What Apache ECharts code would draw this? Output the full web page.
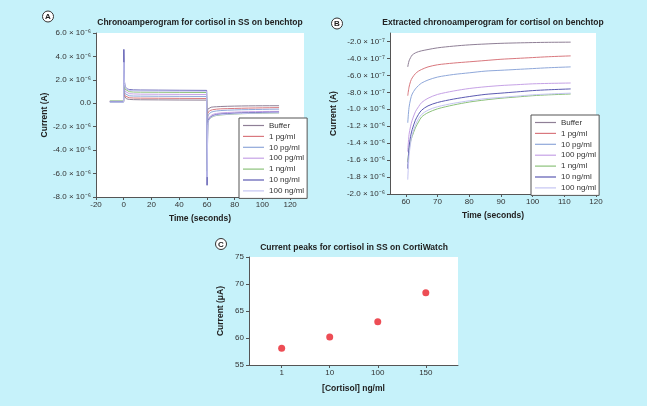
<!DOCTYPE html>
<html><head><meta charset="utf-8">
<script src="https://cdn.jsdelivr.net/npm/echarts@6/dist/echarts.min.js"></script>
<style>html,body{margin:0;padding:0;background:#c6f2fa}#c{width:647px;height:406px}</style>
</head><body><div id="c"></div>
<script>
// ---------- DATA ----------
const seriesNames = ['Buffer','1 pg/ml','10 pg/ml','100 pg/ml','1 ng/ml','10 ng/ml','100 ng/ml'];
const seriesColors = ['#8f7f96','#d9787e','#8fa8da','#c6a2e6','#8cc27a','#5c5ab2','#c4c4f2'];

// Panel A: first part (-10 s .. 60 s), current in units of 1e-6 A
const timeA1 = [-10,-0.1,0.1,0.5,1,2,4,7,12,25,40,59.8,60.1];
const bufferA1   = [0.12,0.12,1.2,0.6,0.45,0.38,0.33,0.31,0.30,0.29,0.28,0.27,-2.5];
const pg1A1      = [0.15,0.15,1.6,0.8,0.62,0.52,0.47,0.45,0.44,0.43,0.42,0.41,-3.5];
const pg10A1     = [0.10,0.10,2.0,1.05,0.82,0.70,0.64,0.62,0.61,0.60,0.59,0.58,-4.5];
const pg100A1    = [0.18,0.18,2.4,1.3,1.02,0.88,0.82,0.80,0.78,0.77,0.76,0.75,-5.2];
const ng1A1      = [0.20,0.20,2.8,1.5,1.2,1.05,0.99,0.96,0.95,0.94,0.93,0.92,-5.8];
const ng10A1     = [0.15,0.15,4.6,1.9,1.45,1.25,1.17,1.14,1.13,1.12,1.11,1.10,-7.0];
const ng100A1    = [0.12,0.12,3.5,1.7,1.35,1.18,1.10,1.07,1.06,1.05,1.04,1.03,-6.3];

// Panel B: extracted part (60 s .. 112 s), current in units of 1e-7 A
const timeB = [60.6,61,61.5,62,63,64,65,67,70,75,80,85,90,95,100,105,112];
const bufferB = [-5.0,-4.3,-3.9,-3.6,-3.35,-3.2,-3.1,-2.95,-2.75,-2.55,-2.4,-2.3,-2.22,-2.17,-2.13,-2.1,-2.08];
const pg1B    = [-8.4,-7.4,-6.7,-6.3,-5.8,-5.5,-5.3,-5.0,-4.75,-4.55,-4.4,-4.25,-4.1,-4.0,-3.9,-3.8,-3.7];
const pg10B   = [-11.6,-9.8,-8.8,-8.2,-7.6,-7.2,-6.9,-6.55,-6.2,-5.9,-5.7,-5.5,-5.4,-5.3,-5.2,-5.1,-5.0];
const pg100B  = [-15.0,-13.0,-12.0,-11.3,-10.3,-9.7,-9.2,-8.7,-8.25,-7.85,-7.55,-7.35,-7.2,-7.1,-7.0,-6.95,-6.9];
const ng1B    = [-16.2,-14.8,-13.8,-13.2,-12.2,-11.5,-10.9,-10.4,-9.95,-9.5,-9.15,-8.9,-8.7,-8.55,-8.4,-8.3,-8.2];
const ng10B   = [-17.0,-14.5,-13.2,-12.4,-11.3,-10.6,-10.1,-9.6,-9.2,-8.8,-8.5,-8.25,-8.1,-7.95,-7.8,-7.7,-7.6];
const ng100B  = [-18.3,-15.5,-14.0,-13.0,-11.9,-11.1,-10.6,-10.1,-9.7,-9.3,-9.0,-8.75,-8.6,-8.45,-8.3,-8.2,-8.1];

// Panel C
const cortisolLabels = ['1','10','100','150'];
const peakCurrents = [58.1,60.2,63.0,68.4];

// Tick labels
const xTicksA = [-20,0,20,40,60,80,100,120];
const yTicksA = [-8e-6,-6e-6,-4e-6,-2e-6,0,2e-6,4e-6,6e-6];
const xTicksB = [60,70,80,90,100,110,120];
const yTicksB = [-2.0e-6,-1.8e-6,-1.6e-6,-1.4e-6,-1.2e-6,-1.0e-6,-8e-7,-6e-7,-4e-7,-2e-7];

// ---------- BUILD ----------
const A1 = [bufferA1,pg1A1,pg10A1,pg100A1,ng1A1,ng10A1,ng100A1];
const B  = [bufferB,pg1B,pg10B,pg100B,ng1B,ng10B,ng100B];
const FONT = "'Liberation Sans', Arial, Helvetica, sans-serif";
const sup = {'-':'⁻','0':'⁰','1':'¹','2':'²','3':'³','4':'⁴','5':'⁵','6':'⁶','7':'⁷','8':'⁸','9':'⁹'};
function sci(v){
  if (Math.abs(v) < 1e-12) return '0.0';
  const s = v.toExponential(1); const parts = s.split('e');
  const ex = String(parseInt(parts[1],10));
  return parts[0] + ' × 10' + ex.split('').map(c=>sup[c]).join('');
}
const axisLine = {onZero:false, lineStyle:{color:'#555',width:1}};
const axisTick = {length:3, lineStyle:{color:'#555'}};
const lbl = {fontSize:8, color:'#333', fontFamily:FONT};
const nameStyle = {fontSize:8.5, fontWeight:'bold', color:'#222', fontFamily:FONT};

const series = [];
seriesNames.forEach((n,k)=>{
  const dA = timeA1.map((t,i)=>[t, A1[k][i]*1e-6]).concat(timeB.map((t,i)=>[t, B[k][i]*1e-7]));
  series.push({type:'line', name:n, xAxisIndex:0, yAxisIndex:0, data:dA, symbol:'none', smooth:false,
    lineStyle:{width:1, color:seriesColors[k]}, itemStyle:{color:seriesColors[k]}, animation:false, z: 2});
});
seriesNames.forEach((n,k)=>{
  const dB = timeB.map((t,i)=>[t, B[k][i]*1e-7]);
  series.push({type:'line', name:n, xAxisIndex:1, yAxisIndex:1, data:dB, symbol:'none', smooth:0.3,
    lineStyle:{width:1, color:seriesColors[k]}, itemStyle:{color:seriesColors[k]}, animation:false});
});
series.push({type:'scatter', xAxisIndex:2, yAxisIndex:2, symbolSize:7,
  itemStyle:{color:'#e8202a'}, data: peakCurrents.map((v,i)=>[i,v]), animation:false});

const legendBase = {orient:'vertical', backgroundColor:'#fff', borderColor:'#555', borderWidth:1,
  padding:[3,3,3,4], itemGap:1.9, itemWidth:21, itemHeight:1.2, icon:'rect', data:seriesNames,
  textStyle:{fontSize:8, lineHeight:9, color:'#333', fontFamily:FONT}};

function circ(letter,x,y){
  return {type:'group', x:x, y:y, children:[
    {type:'circle', shape:{cx:0,cy:0,r:5.5}, style:{fill:'#fff', stroke:'#333', lineWidth:1}},
    {type:'text', style:{text:letter, x:0, y:0.5, align:'center', verticalAlign:'middle', fontSize:8, fontWeight:'bold', fill:'#222', fontFamily:FONT}}
  ]};
}

const option = {
  backgroundColor:'#c6f2fa',
  animation:false,
  textStyle:{fontFamily:FONT},
  title:[
    {text:'Chronoamperogram for cortisol in SS on benchtop', left:200, top:18, textAlign:'center',
      textStyle:{fontSize:8.5, fontWeight:'bold', color:'#222', fontFamily:FONT}, padding:0},
    {text:'Extracted chronoamperogram for cortisol on benchtop', left:493, top:18, textAlign:'center',
      textStyle:{fontSize:8.5, fontWeight:'bold', color:'#222', fontFamily:FONT}, padding:0},
    {text:'Current peaks for cortisol in SS on CortiWatch', left:354, top:243, textAlign:'center',
      textStyle:{fontSize:8.5, fontWeight:'bold', color:'#222', fontFamily:FONT}, padding:0}
  ],
  legend:[
    Object.assign({left:239, top:118}, legendBase),
    Object.assign({left:531, top:115}, legendBase)
  ],
  grid:[
    {left:96, top:33, width:208, height:164, show:true, backgroundColor:'#fff', borderWidth:0},
    {left:390, top:33, width:206, height:161, show:true, backgroundColor:'#fff', borderWidth:0},
    {left:249, top:257, width:209, height:108, show:true, backgroundColor:'#fff', borderWidth:0}
  ],
  xAxis:[
    {type:'value', gridIndex:0, min:-20, max:130, name:'Time (seconds)', nameLocation:'middle', nameGap:17, nameTextStyle:nameStyle,
      axisLine:axisLine, axisTick:Object.assign({customValues:xTicksA}, axisTick), splitLine:{show:false},
      axisLabel:Object.assign({customValues:xTicksA, margin:4}, lbl)},
    {type:'value', gridIndex:1, min:55, max:120, name:'Time (seconds)', nameLocation:'middle', nameGap:17, nameTextStyle:nameStyle,
      axisLine:axisLine, axisTick:Object.assign({customValues:xTicksB}, axisTick), splitLine:{show:false},
      axisLabel:Object.assign({customValues:xTicksB, margin:4}, lbl)},
    {type:'value', gridIndex:2, min:-0.68, max:3.67, name:'[Cortisol] ng/ml', nameLocation:'middle', nameGap:19, nameTextStyle:nameStyle,
      axisLine:axisLine, axisTick:Object.assign({customValues:[0,1,2,3]}, axisTick), splitLine:{show:false},
      axisLabel:Object.assign({customValues:[0,1,2,3], margin:4, formatter:v=>cortisolLabels[Math.round(v)]}, lbl)}
  ],
  yAxis:[
    {type:'value', gridIndex:0, min:-8e-6, max:6e-6, name:'Current (A)', nameLocation:'middle', nameGap:43, nameTextStyle:nameStyle,
      axisLine:Object.assign({show:true}, axisLine), axisTick:Object.assign({show:true, customValues:yTicksA}, axisTick), splitLine:{show:false},
      axisLabel:Object.assign({customValues:yTicksA, margin:5, formatter:sci}, lbl)},
    {type:'value', gridIndex:1, min:-2e-6, max:-1.0e-7, name:'Current (A)', nameLocation:'middle', nameGap:52, nameTextStyle:nameStyle,
      axisLine:Object.assign({show:true}, axisLine), axisTick:Object.assign({show:true, customValues:yTicksB}, axisTick), splitLine:{show:false},
      axisLabel:Object.assign({customValues:yTicksB, margin:5, formatter:sci}, lbl)},
    {type:'value', gridIndex:2, min:55, max:75, interval:5, name:'Current (μA)', nameLocation:'middle', nameGap:24, nameTextStyle:nameStyle,
      axisLine:Object.assign({show:true}, axisLine), axisTick:Object.assign({show:true}, axisTick), splitLine:{show:false},
      axisLabel:Object.assign({margin:5}, lbl)}
  ],
  graphic:[circ('A',48,16.5), circ('B',337,23.5), circ('C',221,244)],
  series:series
};
const chart = echarts.init(document.getElementById('c'), null, {renderer:'canvas'});
chart.setOption(option);
</script></body></html>
